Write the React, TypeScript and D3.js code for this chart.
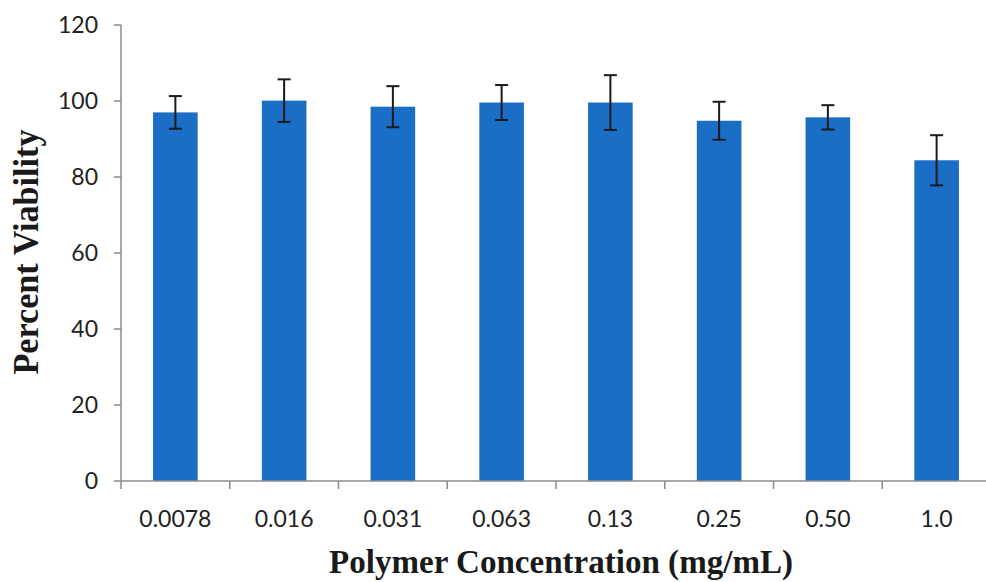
import React, { useEffect, useRef } from 'react';
import * as d3 from 'd3';

// concentrations (mg/mL) on the x axis
const concentrations = ['0.0078', '0.016', '0.031', '0.063', '0.13', '0.25', '0.50', '1.0'];
// mean percent viability per concentration
const viability = [97.0, 100.1, 98.5, 99.6, 99.6, 94.8, 95.7, 84.4];
// error bar half-widths
const errors = [4.3, 5.6, 5.4, 4.6, 7.2, 5.0, 3.2, 6.6];
const yTicks = [0, 20, 40, 60, 80, 100, 120];

const App = () => {
  const chartRef = useRef<SVGSVGElement>(null);

  useEffect(() => {
    const width = 986;
    const height = 582;
    const left = 121;
    const right = 991;
    const top = 25;
    const bottom = 481;

    const svg = d3.select(chartRef.current);
    svg.selectAll('*').remove();

    const x = d3.scaleBand().domain(concentrations).range([left, right]).paddingInner(0.59).paddingOuter(0.295);
    const y = d3.scaleLinear().domain([0, 120]).range([bottom, top]);

    const data = concentrations.map((c, i) => ({ c, v: viability[i], e: errors[i] }));

    // bars
    svg
      .selectAll('.bar')
      .data(data)
      .enter()
      .append('rect')
      .attr('class', 'bar')
      .attr('x', (d) => x(d.c)!)
      .attr('y', (d) => y(d.v))
      .attr('width', x.bandwidth())
      .attr('height', (d) => y(0) - y(d.v))
      .attr('fill', '#1b6ec6');

    // y axis
    svg.append('line')
      .attr('x1', left).attr('x2', left)
      .attr('y1', y(120)).attr('y2', y(0))
      .attr('stroke', '#8c8c8c').attr('stroke-width', 1.5);

    const yt = svg.selectAll('.ytick').data(yTicks).enter().append('g').attr('class', 'ytick');
    yt.append('line')
      .attr('x1', left - 7).attr('x2', left)
      .attr('y1', (d) => y(d)).attr('y2', (d) => y(d))
      .attr('stroke', '#8c8c8c').attr('stroke-width', 1.5);
    yt.append('text')
      .attr('x', left - 23)
      .attr('y', (d) => y(d))
      .attr('dy', '0.35em')
      .attr('text-anchor', 'end')
      .attr('font-family', 'Lato, sans-serif')
      .attr('font-size', 23)
      .attr('fill', '#222')
      .text((d) => d);

    // x axis
    svg.append('line')
      .attr('x1', left).attr('x2', right)
      .attr('y1', y(0)).attr('y2', y(0))
      .attr('stroke', '#8c8c8c').attr('stroke-width', 1.5);

    const step = x.step();
    const bounds = d3.range(concentrations.length + 1).map((i) => left + i * step);
    svg.selectAll('.xtick')
      .data(bounds)
      .enter()
      .append('line')
      .attr('x1', (d) => d).attr('x2', (d) => d)
      .attr('y1', y(0)).attr('y2', y(0) + 8)
      .attr('stroke', '#8c8c8c').attr('stroke-width', 1.5);

    svg.selectAll('.xlabel')
      .data(concentrations)
      .enter()
      .append('text')
      .attr('x', (d) => x(d)! + x.bandwidth() / 2)
      .attr('y', 527)
      .attr('text-anchor', 'middle')
      .attr('font-family', 'Lato, sans-serif')
      .attr('font-size', 23)
      .attr('fill', '#222')
      .text((d) => d);

    // error bars
    const eb = svg.selectAll('.err').data(data).enter().append('g').attr('class', 'err')
      .attr('stroke', '#1a1a1a').attr('stroke-width', 2);
    const cx = (d: any) => x(d.c)! + x.bandwidth() / 2;
    eb.append('line')
      .attr('x1', cx).attr('x2', cx)
      .attr('y1', (d) => y(d.v + d.e)).attr('y2', (d) => y(d.v - d.e));
    eb.append('line')
      .attr('x1', (d) => cx(d) - 6.5).attr('x2', (d) => cx(d) + 6.5)
      .attr('y1', (d) => y(d.v + d.e)).attr('y2', (d) => y(d.v + d.e));
    eb.append('line')
      .attr('x1', (d) => cx(d) - 6.5).attr('x2', (d) => cx(d) + 6.5)
      .attr('y1', (d) => y(d.v - d.e)).attr('y2', (d) => y(d.v - d.e));

    // axis titles
    svg.append('text')
      .attr('x', 561)
      .attr('y', 573)
      .attr('text-anchor', 'middle')
      .attr('font-family', '"Liberation Serif", serif')
      .attr('font-weight', 'bold')
      .attr('font-size', 34)
      .attr('textLength', 464)
      .attr('lengthAdjust', 'spacingAndGlyphs')
      .attr('fill', '#1a1a1a')
      .text('Polymer Concentration (mg/mL)');

    svg.append('text')
      .attr('transform', `translate(38,252) rotate(-90)`)
      .attr('text-anchor', 'middle')
      .attr('font-family', '"Liberation Serif", serif')
      .attr('font-weight', 'bold')
      .attr('font-size', 36)
      .attr('textLength', 245)
      .attr('lengthAdjust', 'spacingAndGlyphs')
      .attr('fill', '#1a1a1a')
      .text('Percent Viability');

    svg.attr('width', width).attr('height', height);
  }, []);

  return (
    <svg
      ref={chartRef}
      width={986}
      height={582}
      style={{ position: 'absolute', left: 0, top: 0, background: '#fff' }}
    />
  );
};

export default App;
